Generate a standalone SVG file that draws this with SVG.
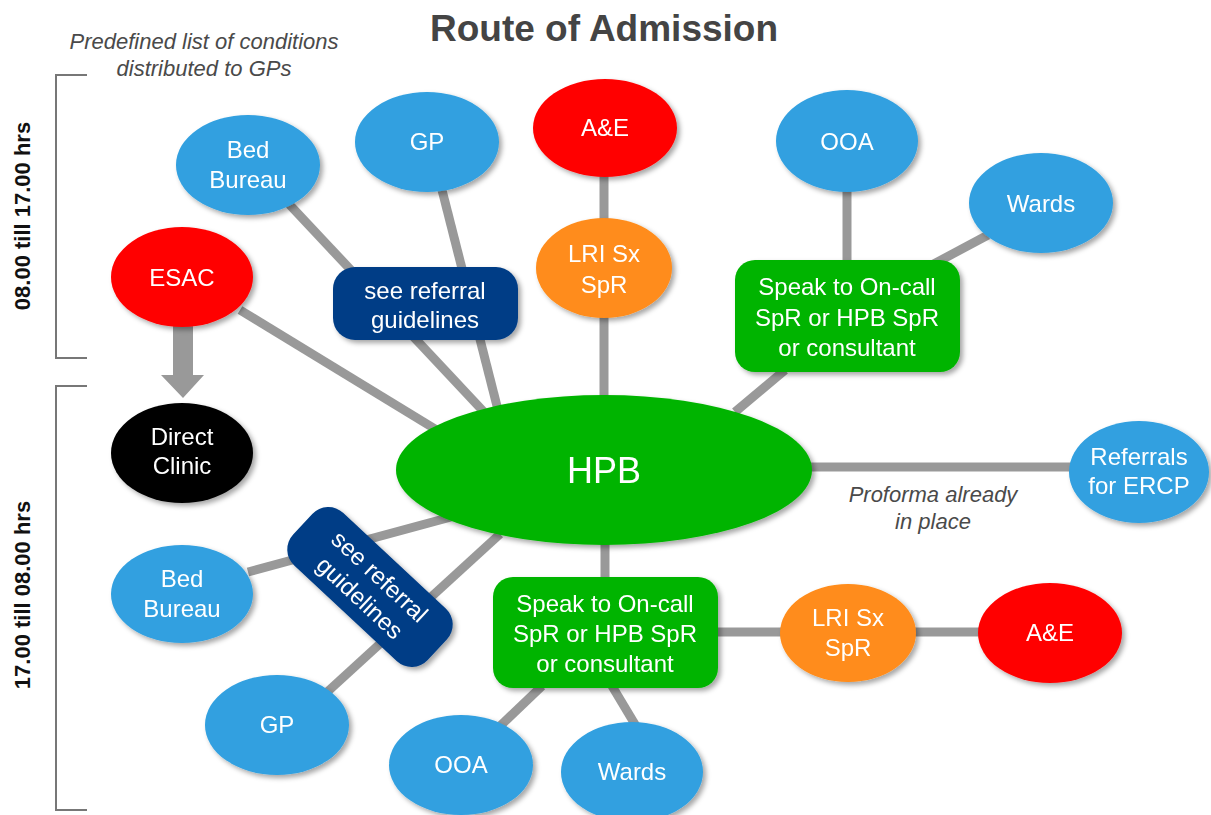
<svg xmlns="http://www.w3.org/2000/svg" width="1211" height="815" viewBox="0 0 1211 815">
  <defs>
    <filter id="shadow" x="-20%" y="-20%" width="150%" height="150%">
      <feDropShadow dx="3" dy="3" stdDeviation="2.5" flood-color="#000" flood-opacity="0.35"/>
    </filter>
    <style>
      .link { stroke: #999; stroke-width: 9; fill: none; }
      .blue { fill: #31A0E0; }
      .red { fill: #FF0000; }
      .orange { fill: #FF8C1A; }
      .green { fill: #00B400; }
      .navy { fill: #033E86; }
      .black { fill: #000; }
      .node { filter: url(#shadow); }
      .lbl { font-family: "Liberation Sans", Arial, sans-serif; font-size: 24px; fill: #fff; text-anchor: middle; }
      .big { font-size: 36px; }
      .title { font-family: "Liberation Sans", Arial, sans-serif; font-size: 37px; font-weight: bold; fill: #444; text-anchor: middle; }
      .note { font-family: "Liberation Sans", Arial, sans-serif; font-size: 22px; font-style: italic; fill: #4a4a4a; text-anchor: middle; }
      .side { font-family: "Liberation Sans", Arial, sans-serif; font-size: 22px; font-weight: bold; fill: #111; text-anchor: middle; }
      .bracket { stroke: #777; stroke-width: 2; fill: none; }
    </style>
  </defs>

  <rect width="1211" height="815" fill="#fff"/>

  <!-- title and notes -->
  <text class="title" x="604" y="41">Route of Admission</text>
  <text class="note" x="204" y="49">Predefined list of conditions</text>
  <text class="note" x="204" y="76">distributed to GPs</text>
  <text class="note" x="933" y="502">Proforma already</text>
  <text class="note" x="933" y="529">in place</text>

  <!-- time brackets -->
  <g id="brackets">
    <path class="bracket" d="M87,75 H56 V358 H87"/>
    <path class="bracket" d="M87,386 H56 V810 H87"/>
    <text class="side" transform="translate(30,216) rotate(-90)">08.00 till 17.00 hrs</text>
    <text class="side" transform="translate(30,595) rotate(-90)">17.00 till 08.00 hrs</text>
  </g>

  <!-- connectors -->
  <g id="connectors">
    <line class="link" x1="288" y1="203" x2="484" y2="412"/>
    <line class="link" x1="442" y1="190" x2="498" y2="410"/>
    <line class="link" x1="240" y1="310" x2="440" y2="432"/>
    <line class="link" x1="604" y1="175" x2="604" y2="220"/>
    <line class="link" x1="604" y1="316" x2="604" y2="398"/>
    <line class="link" x1="847" y1="190" x2="847" y2="262"/>
    <line class="link" x1="988" y1="235" x2="930" y2="266"/>
    <line class="link" x1="785" y1="370" x2="735" y2="412"/>
    <line class="link" x1="808" y1="467" x2="1072" y2="467"/>
    <line class="link" x1="605" y1="542" x2="605" y2="580"/>
    <line class="link" x1="715" y1="632" x2="782" y2="632"/>
    <line class="link" x1="914" y1="632" x2="980" y2="632"/>
    <line class="link" x1="542" y1="686" x2="498" y2="728"/>
    <line class="link" x1="612" y1="686" x2="636" y2="726"/>
    <line class="link" x1="462" y1="514" x2="248" y2="572"/>
    <line class="link" x1="500" y1="534" x2="325" y2="694"/>
    <!-- ESAC to Direct Clinic arrow -->
    <polygon fill="#999" points="173,326 193,326 193,375 204,375 183,398 161,375 173,375"/>
  </g>

  <!-- nodes -->
  <g id="bed-bureau-day" class="node">
    <ellipse class="blue" cx="248" cy="165" rx="72" ry="50"/>
    <text class="lbl" x="248" y="158">Bed</text>
    <text class="lbl" x="248" y="188">Bureau</text>
  </g>
  <g id="gp-day" class="node">
    <ellipse class="blue" cx="427" cy="142" rx="72" ry="50"/>
    <text class="lbl" x="427" y="150">GP</text>
  </g>
  <g id="ae-day" class="node">
    <ellipse class="red" cx="605" cy="128" rx="72" ry="49"/>
    <text class="lbl" x="605" y="136">A&amp;E</text>
  </g>
  <g id="ooa-day" class="node">
    <ellipse class="blue" cx="847" cy="141" rx="71" ry="51"/>
    <text class="lbl" x="847" y="150">OOA</text>
  </g>
  <g id="wards-day" class="node">
    <ellipse class="blue" cx="1041" cy="203" rx="72" ry="50"/>
    <text class="lbl" x="1041" y="212">Wards</text>
  </g>
  <g id="esac" class="node">
    <ellipse class="red" cx="182" cy="277" rx="71" ry="50"/>
    <text class="lbl" x="182" y="286">ESAC</text>
  </g>
  <g id="lri-day" class="node">
    <ellipse class="orange" cx="604" cy="268" rx="68" ry="50"/>
    <text class="lbl" x="604" y="262">LRI Sx</text>
    <text class="lbl" x="604" y="293">SpR</text>
  </g>
  <g id="guidelines-day" class="node">
    <rect class="navy" x="333" y="267" width="185" height="73" rx="22"/>
    <text class="lbl" x="425" y="299">see referral</text>
    <text class="lbl" x="425" y="328">guidelines</text>
  </g>
  <g id="speak-day" class="node">
    <rect class="green" x="735" y="260" width="225" height="112" rx="20"/>
    <text class="lbl" x="847" y="295">Speak to On-call</text>
    <text class="lbl" x="847" y="326">SpR or HPB SpR</text>
    <text class="lbl" x="847" y="356">or consultant</text>
  </g>
  <g id="hpb" class="node">
    <ellipse class="green" cx="604" cy="470" rx="208" ry="75"/>
    <text class="lbl big" x="604" y="483">HPB</text>
  </g>
  <g id="direct-clinic" class="node">
    <ellipse class="black" cx="182" cy="453" rx="71" ry="50"/>
    <text class="lbl" x="182" y="445">Direct</text>
    <text class="lbl" x="182" y="474">Clinic</text>
  </g>
  <g id="referrals-ercp" class="node">
    <ellipse class="blue" cx="1139" cy="472" rx="70" ry="51"/>
    <text class="lbl" x="1139" y="465">Referrals</text>
    <text class="lbl" x="1139" y="494">for ERCP</text>
  </g>
  <g id="bed-bureau-night" class="node">
    <ellipse class="blue" cx="182" cy="594" rx="71" ry="49"/>
    <text class="lbl" x="182" y="587">Bed</text>
    <text class="lbl" x="182" y="617">Bureau</text>
  </g>
  <g id="gp-night" class="node">
    <ellipse class="blue" cx="277" cy="725" rx="72" ry="50"/>
    <text class="lbl" x="277" y="733">GP</text>
  </g>
  <g id="guidelines-night" class="node">
    <g transform="translate(370,587) rotate(43)">
      <rect class="navy" x="-92" y="-36" width="184" height="72" rx="22"/>
      <text class="lbl" x="0" y="-6">see referral</text>
      <text class="lbl" x="0" y="23">guidelines</text>
    </g>
  </g>
  <g id="speak-night" class="node">
    <rect class="green" x="493" y="577" width="225" height="111" rx="20"/>
    <text class="lbl" x="605" y="612">Speak to On-call</text>
    <text class="lbl" x="605" y="642">SpR or HPB SpR</text>
    <text class="lbl" x="605" y="672">or consultant</text>
  </g>
  <g id="lri-night" class="node">
    <ellipse class="orange" cx="848" cy="633" rx="68" ry="49"/>
    <text class="lbl" x="848" y="626">LRI Sx</text>
    <text class="lbl" x="848" y="656">SpR</text>
  </g>
  <g id="ae-night" class="node">
    <ellipse class="red" cx="1050" cy="633" rx="72" ry="50"/>
    <text class="lbl" x="1050" y="641">A&amp;E</text>
  </g>
  <g id="ooa-night" class="node">
    <ellipse class="blue" cx="461" cy="765" rx="72" ry="50"/>
    <text class="lbl" x="461" y="773">OOA</text>
  </g>
  <g id="wards-night" class="node">
    <ellipse class="blue" cx="632" cy="772" rx="71" ry="50"/>
    <text class="lbl" x="632" y="780">Wards</text>
  </g>
</svg>
